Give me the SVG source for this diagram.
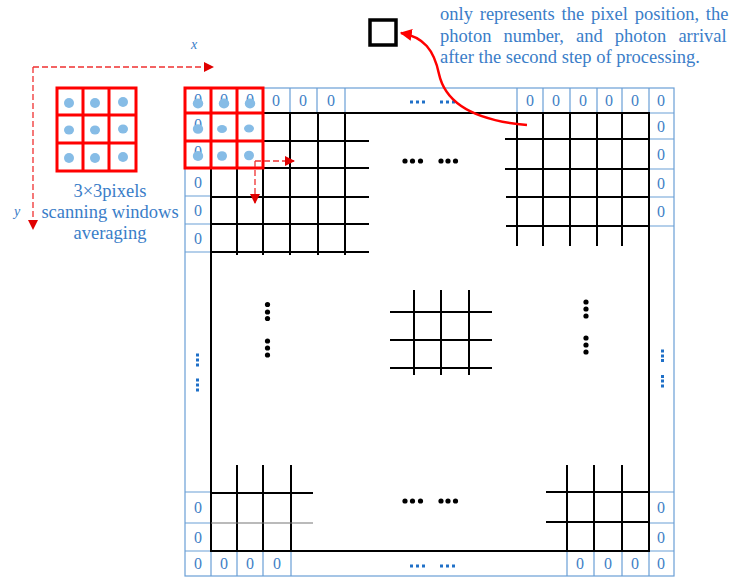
<svg xmlns="http://www.w3.org/2000/svg" width="739" height="577" viewBox="0 0 739 577">
<defs>
<style>
.bl{stroke:#6A9FD6;stroke-width:1.2;fill:none}
.k{stroke:#000;stroke-width:2;fill:none}
.kg{stroke:#777;stroke-width:1.2;fill:none}
.red{stroke:#FF0000;stroke-width:3;fill:none}
.z{font-family:"Liberation Serif","Times New Roman",serif;font-size:16px;fill:#3F7FC6;text-anchor:middle}
.t{font-family:"Liberation Serif","Times New Roman",serif;font-size:18.5px;fill:#3A7DC8}
.ax{font-family:"Liberation Serif","Times New Roman",serif;font-size:14px;font-style:italic;fill:#3A7DC8}
.dot{fill:#86BCE6}
.bd{fill:#000}
.ud{fill:#1F70C8}
.dash{stroke:#F03030;stroke-width:1.3;stroke-dasharray:6,3;fill:none}
</style>
<marker id="ah" viewBox="0 0 10 10" refX="9" refY="5" markerWidth="10" markerHeight="10" markerUnits="userSpaceOnUse" orient="auto"><path d="M0,0 L10,5 L0,10 Z" fill="#E00000"/></marker>
<marker id="ah2" viewBox="0 0 10 10" refX="9" refY="5" markerWidth="12" markerHeight="12" markerUnits="userSpaceOnUse" orient="auto"><path d="M0,0 L10,5 L0,10 Z" fill="#FF0000"/></marker>
</defs>
<rect width="739" height="577" fill="#fff"/>

<g id="legend-box">
<rect x="370" y="20" width="26" height="25" fill="#fff" stroke="#000" stroke-width="3.5"/>
<text class="t" x="440" y="20" word-spacing="2.2">only represents the pixel position, the</text>
<text class="t" x="440" y="42" word-spacing="7.5">photon number, and photon arrival</text>
<text class="t" x="440" y="63">after the second step of processing.</text>
</g>

<g id="axes">
<path class="dash" d="M33,67 H213" marker-end="url(#ah)"/>
<path class="dash" d="M33,67 V229" marker-end="url(#ah)"/>
<text class="ax" x="191" y="49">x</text>
<text class="ax" x="14" y="216">y</text>
</g>

<g id="window">
<rect x="57" y="88" width="79" height="83" fill="#fff"/>
<g class="red">
<rect x="57" y="88" width="79" height="83"/>
<path d="M83,88 V171 M109,88 V171 M57,115 H136 M57,143 H136"/>
</g>
<g class="dot">
<ellipse cx="69" cy="103" rx="5" ry="5"/><ellipse cx="95" cy="103" rx="5" ry="5"/><ellipse cx="123" cy="102" rx="5" ry="5"/>
<ellipse cx="69" cy="130" rx="5" ry="4.5"/><ellipse cx="95" cy="130" rx="5" ry="4.5"/><ellipse cx="123" cy="129" rx="5" ry="4.5"/>
<ellipse cx="69" cy="158" rx="5" ry="5"/><ellipse cx="95" cy="158" rx="5" ry="5"/><ellipse cx="123" cy="157" rx="5" ry="5"/>
</g>
<text class="t" x="110" y="197" text-anchor="middle">3×3pixels</text>
<text class="t" x="110" y="218" text-anchor="middle">scanning windows</text>
<text class="t" x="110" y="239" text-anchor="middle">averaging</text>
</g>

<g id="padding-cells">
<rect class="bl" x="185" y="88" width="489" height="488"/>
<path class="bl" d="M185,113 H674 M211,88 V576 M649,88 V576 M185,551 H674
M237,88 V113 M263,88 V113 M290,88 V113 M317,88 V113 M345,88 V113 M517,88 V113 M543,88 V113 M570,88 V113 M597,88 V113 M622,88 V113
M185,141 H211 M185,168 H211 M185,196 H211 M185,224 H211 M185,252 H211 M185,492 H211 M185,523 H211
M649,139 H674 M649,169 H674 M649,197 H674 M649,226 H674 M649,492 H674 M649,523 H674
M237,551 V576 M263,551 V576 M291,551 V576 M567,551 V576 M594,551 V576 M622,551 V576"/>
<g class="z">
<text x="276" y="106">0</text><text x="303" y="106">0</text><text x="331" y="106">0</text>
<text x="530" y="106">0</text><text x="556" y="106">0</text><text x="583" y="106">0</text><text x="609" y="106">0</text><text x="635" y="106">0</text><text x="661" y="106">0</text>
<text x="661" y="132">0</text><text x="661" y="160">0</text><text x="661" y="189">0</text><text x="661" y="217">0</text>
<text x="661" y="513">0</text><text x="661" y="543">0</text><text x="661" y="569">0</text>
<text x="198" y="188">0</text><text x="198" y="216">0</text><text x="198" y="244">0</text>
<text x="198" y="513">0</text><text x="198" y="543">0</text><text x="198" y="569">0</text>
<text x="224" y="569">0</text><text x="250" y="569">0</text><text x="277" y="569">0</text>
<text x="580" y="569">0</text><text x="608" y="569">0</text><text x="635" y="569">0</text>
</g>
<g class="ud">
<rect x="410" y="100.5" width="3" height="3"/><rect x="416" y="100.5" width="3" height="3"/><rect x="422" y="100.5" width="3" height="3"/>
<rect x="440" y="100.5" width="3" height="3"/><rect x="446" y="100.5" width="3" height="3"/><rect x="452" y="100.5" width="3" height="3"/>
<rect x="410" y="564.5" width="3" height="3"/><rect x="416" y="564.5" width="3" height="3"/><rect x="422" y="564.5" width="3" height="3"/>
<rect x="440" y="564.5" width="3" height="3"/><rect x="446" y="564.5" width="3" height="3"/><rect x="452" y="564.5" width="3" height="3"/>
<rect x="196" y="353.5" width="3" height="3"/><rect x="196" y="358.5" width="3" height="3"/><rect x="196" y="363.5" width="3" height="3"/>
<rect x="196" y="378.5" width="3" height="3"/><rect x="196" y="383.5" width="3" height="3"/><rect x="196" y="388.5" width="3" height="3"/>
<rect x="661" y="349.5" width="3" height="3"/><rect x="661" y="354.5" width="3" height="3"/><rect x="661" y="359" width="3" height="3"/>
<rect x="661" y="375" width="3" height="3"/><rect x="661" y="379.5" width="3" height="3"/><rect x="661" y="384.5" width="3" height="3"/>
</g>
</g>

<g id="image-grid">
<rect class="k" x="211" y="113" width="438" height="438"/>
<path class="k" d="M211,141 H369 M211,168 H369 M211,197 H369 M211,224 H369 M211,252 H369
M237,113 V255 M263,113 V255 M290,113 V255 M318,113 V255 M345,113 V255"/>
<path class="k" d="M505,139 H649 M505,169 H649 M506,197 H649 M506,226 H649
M517,113 V246 M543,113 V246 M570,113 V246 M597,113 V246 M622,113 V246"/>
<path class="k" d="M390,312 H492 M390,340 H492 M390,368 H492 M414,290 V375 M441,290 V375 M469,290 V375"/>
<path class="k" d="M211,493 H313 M237,465 V551 M263,465 V551 M291,465 V551"/>
<path class="kg" d="M211,523 H313"/>
<path class="k" d="M546,492 H649 M546,522 H649 M567,465 V551 M594,465 V551 M622,465 V551"/>
<g class="bd">
<circle cx="405" cy="161" r="2.6"/><circle cx="412.5" cy="161" r="2.6"/><circle cx="420.5" cy="161" r="2.6"/>
<circle cx="441" cy="161" r="2.6"/><circle cx="448" cy="161" r="2.6"/><circle cx="455.5" cy="161" r="2.6"/>
<circle cx="405" cy="501" r="2.6"/><circle cx="412.5" cy="501" r="2.6"/><circle cx="420.5" cy="501" r="2.6"/>
<circle cx="441" cy="501" r="2.6"/><circle cx="448" cy="501" r="2.6"/><circle cx="455.5" cy="501" r="2.6"/>
<circle cx="267.5" cy="304.5" r="2.6"/><circle cx="267.5" cy="312" r="2.6"/><circle cx="267.5" cy="318.5" r="2.6"/>
<circle cx="267.5" cy="341" r="2.6"/><circle cx="267.5" cy="348" r="2.6"/><circle cx="267.5" cy="355" r="2.6"/>
<circle cx="586" cy="302" r="2.6"/><circle cx="586" cy="309" r="2.6"/><circle cx="586" cy="316" r="2.6"/>
<circle cx="586" cy="338" r="2.6"/><circle cx="586" cy="345" r="2.6"/><circle cx="586" cy="352" r="2.6"/>
</g>
</g>

<g id="scan-window">
<rect x="185" y="88" width="78" height="80" fill="#fff"/>
<g class="z">
<text x="198" y="105">0</text><text x="224" y="105">0</text><text x="250" y="105">0</text>
<text x="198" y="130">0</text><text x="198" y="157">0</text>
</g>
<g class="dot">
<ellipse cx="198" cy="103.5" rx="5.2" ry="5"/><ellipse cx="224" cy="103.5" rx="5.2" ry="5"/><ellipse cx="250" cy="103.5" rx="5.2" ry="5"/>
<ellipse cx="198" cy="129" rx="5.2" ry="4.8"/><ellipse cx="222" cy="129" rx="5" ry="4"/><ellipse cx="249" cy="128.5" rx="5" ry="4"/>
<ellipse cx="198" cy="156" rx="5.2" ry="5"/><ellipse cx="222" cy="156" rx="5" ry="4.8"/><ellipse cx="249" cy="155.5" rx="5" ry="4.8"/>
</g>
<g class="red">
<rect x="185" y="88" width="78" height="80"/>
<path d="M211,88 V168 M237,88 V168 M185,113 H263 M185,141 H263"/>
</g>
</g>

<g id="connectors">
<path class="dash" d="M255,161 H294" marker-end="url(#ah)"/>
<path class="dash" d="M255,161 V203" stroke="#F47070" marker-end="url(#ah)"/>
<path d="M527,125 C480,121 446,106 439,74 C434,50 424,37 401,33" stroke="#FF0000" stroke-width="2.5" fill="none" marker-end="url(#ah2)"/>
</g>
</svg>
